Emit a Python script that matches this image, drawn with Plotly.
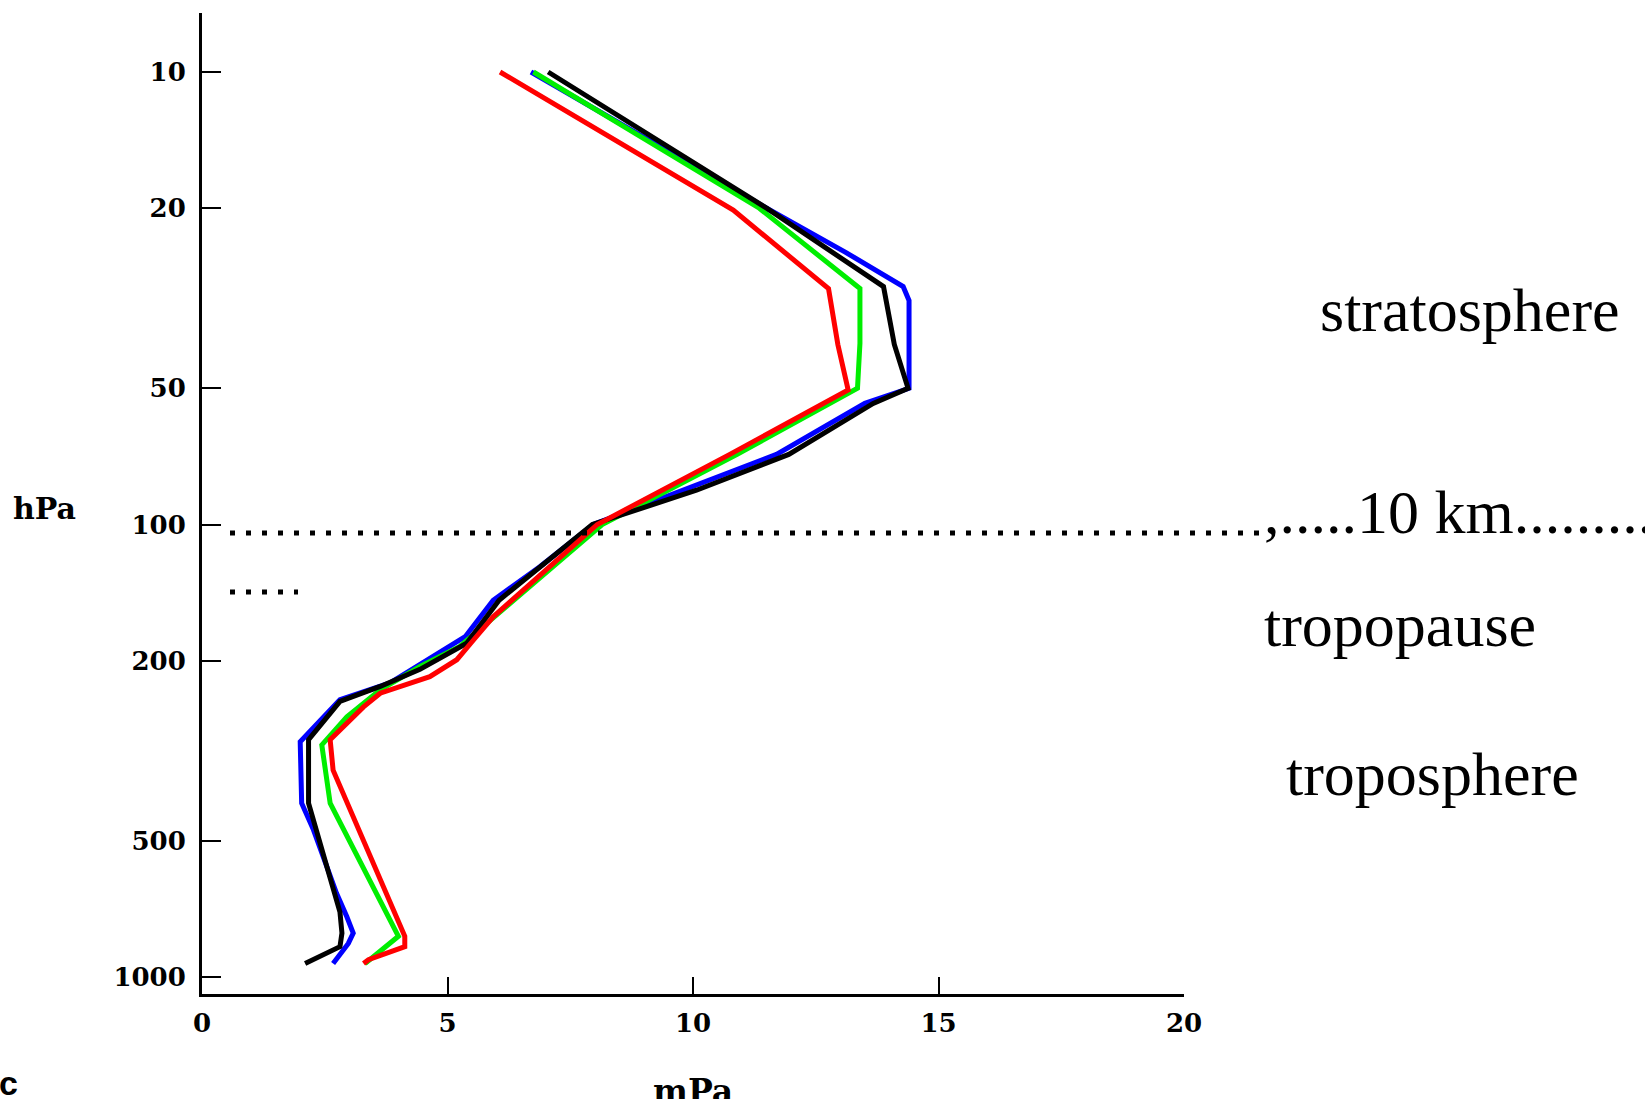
import plotly.graph_objects as go

# ---------------- data ----------------
pressure_ticks = [10, 20, 50, 100, 200, 500, 1000]
pressure_tick_labels = ["10", "20", "50", "100", "200", "500", "1000"]
ozone_ticks = [0, 5, 10, 15, 20]
ozone_tick_labels = ["0", "5", "10", "15", "20"]

blue_p = [10, 15, 20, 25, 29.8, 32, 50, 54, 70, 100, 124, 147, 177, 224, 244, 302, 413, 473, 653, 736, 800, 843, 934]
blue_v = [6.7, 9.5, 11.5, 13.1, 14.28, 14.4, 14.4, 13.5, 11.7, 7.97, 6.88, 5.93, 5.36, 3.83, 2.81, 2.0, 2.03, 2.27, 2.74, 2.95, 3.08, 2.98, 2.67]

green_p = [10, 20, 30.1, 39.8, 50, 70, 100, 147, 186, 206, 232, 266, 307, 413, 773, 813, 902, 934]
green_v = [6.75, 11.35, 13.4, 13.4, 13.35, 10.9, 8.15, 6.34, 5.25, 4.44, 3.63, 2.95, 2.44, 2.61, 3.9, 4.0, 3.49, 3.32]

black_p = [10, 20, 29.8, 40, 50, 54, 70, 84, 100, 147, 183, 209, 228, 246, 299, 413, 719, 800, 857, 871, 934]
black_v = [7.05, 11.5, 13.88, 14.1, 14.38, 13.67, 11.95, 10.07, 7.95, 6.05, 5.39, 4.44, 3.63, 2.81, 2.17, 2.17, 2.81, 2.85, 2.81, 2.67, 2.1]

red_p = [10, 20.2, 30.1, 40, 50.4, 70, 100, 126, 160, 180, 199, 217, 236, 253, 299, 349, 813, 857, 916, 934]
red_v = [6.07, 10.82, 12.76, 12.95, 13.16, 10.75, 8.05, 7.02, 5.93, 5.53, 5.19, 4.64, 3.63, 3.29, 2.61, 2.67, 4.13, 4.13, 3.39, 3.29]

x_title = "mPa"
y_title = "hPa"
labels = ["stratosphere", ",.....10 km..........", "tropopause", "troposphere"]

# ---------------- layout geometry ----------------
W, H = 1645, 1099
L, R = 202, 1184
T, B = 13, 994


def xp(px):
    return (px - L) / (R - L)


def yp(py):
    return (B - py) / (B - T)


fig = go.Figure()
for p, v, c in [(blue_p, blue_v, "#0000ff"), (green_p, green_v, "#00ee00"),
                (black_p, black_v, "#000000"), (red_p, red_v, "#ff0000")]:
    fig.add_trace(go.Scatter(x=v, y=p, mode="lines", line=dict(color=c, width=5),
                             showlegend=False, hoverinfo="x+y"))

tickfont = dict(family="DejaVu Serif", size=26, color="black", weight="bold")

fig.update_layout(
    width=W, height=H,
    margin=dict(l=L, r=W - R, t=T, b=H - B, pad=0),
    paper_bgcolor="white", plot_bgcolor="white",
    showlegend=False,
)
fig.update_xaxes(
    range=[0, 20], tickvals=ozone_ticks, ticktext=ozone_tick_labels,
    ticks="inside", ticklen=17, tickwidth=2, tickcolor="black",
    showline=True, linewidth=3, linecolor="black",
    showgrid=False, zeroline=False, tickfont=tickfont, ticklabelstandoff=4,
)
fig.update_yaxes(
    type="log", range=[3.0376, 0.8696],
    tickvals=pressure_ticks, ticktext=pressure_tick_labels,
    ticks="inside", ticklen=19, tickwidth=2, tickcolor="black",
    showline=True, linewidth=3, linecolor="black",
    showgrid=False, zeroline=False, tickfont=tickfont, ticklabelstandoff=8,
)

# dotted separator lines (square dots)
fig.add_shape(type="line", xref="paper", yref="paper",
              x0=xp(230), x1=xp(1262), y0=yp(533), y1=yp(533),
              line=dict(color="black", width=5, dash="5px,11px"))
fig.add_shape(type="line", xref="paper", yref="paper",
              x0=xp(230), x1=xp(298), y0=yp(592), y1=yp(592),
              line=dict(color="black", width=5, dash="5px,11px"))

serif = dict(family="Liberation Serif", size=62, color="black")
label_pos = [(1318, 310), (1262, 512), (1262, 625), (1284, 774)]
for txt, (px, py) in zip(labels, label_pos):
    fig.add_annotation(text=txt, xref="paper", yref="paper", x=xp(px), y=yp(py),
                       xanchor="left", yanchor="middle", showarrow=False, font=serif)

axisfont = dict(family="DejaVu Serif", size=30, color="black", weight="bold")
fig.add_annotation(text=y_title, xref="paper", yref="paper", x=xp(11), y=yp(508),
                   xanchor="left", yanchor="middle", showarrow=False, font=axisfont)
fig.add_annotation(text=x_title, xref="x", yref="paper", x=10, y=yp(1070),
                   xanchor="center", yanchor="top", showarrow=False,
                   font=dict(family="DejaVu Serif", size=33, color="black", weight="bold"))
fig.add_annotation(text="c", xref="paper", yref="paper", x=xp(-3), y=yp(1083),
                   xanchor="left", yanchor="middle", showarrow=False,
                   font=dict(family="Liberation Sans", size=34, color="black", weight="bold"))

fig.write_html("out.html", config={"displayModeBar": False},
               post_script="document.body.style.margin='0';document.body.style.overflow='hidden';")
